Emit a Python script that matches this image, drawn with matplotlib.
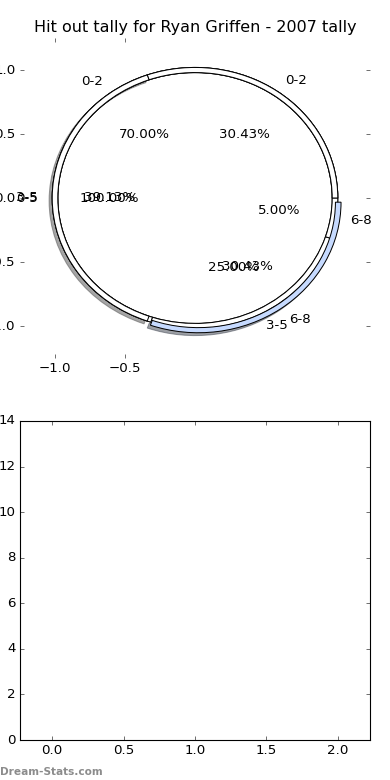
import matplotlib
matplotlib.use("Agg")
import matplotlib.pyplot as plt
from matplotlib.patches import Shadow

plt.style.use('classic')

# hit out tallies per range
labels_a = ['0-2', '3-5', '6-8']
tally_a = [14, 5, 1]
labels_b = ['0-2', '3-5', '6-8']
tally_b = [7, 9, 7]
labels_c = ['0-5']
tally_c = [1]

colors_a = ['white', 'white', 'white']
colors_b = ['white', 'white', '#c6daff']
colors_c = ['white']
explode_b = [0, 0, 0.04]

title = "Hit out tally for Ryan Griffen - 2007 tally"

fig = plt.figure(figsize=(4.875, 9.75), dpi=80)
fig.patch.set_facecolor('white')

ring = dict(width=0.04, edgecolor='black', linewidth=0.9)

ax1 = fig.add_axes([20/390, 1 - 358/780, 350/390, 320/780])
ax1.pie(tally_c, labels=labels_c, colors=colors_c, autopct='%1.2f%%',
        radius=1.02, wedgeprops=ring)
ax1.pie(tally_a, labels=labels_a, colors=colors_a, autopct='%1.2f%%',
        radius=1.02, wedgeprops=ring)
wedges, texts, autotexts = ax1.pie(tally_b, labels=labels_b, colors=colors_b,
                                   autopct='%1.2f%%', radius=1.02,
                                   explode=explode_b, wedgeprops=ring)
# shadow only under the lower wedges
for w in wedges[1:]:
    sh = Shadow(w, -0.02, -0.02)
    sh.set_zorder(w.get_zorder() - 0.1)
    ax1.add_patch(sh)

ax1.set_aspect('auto')
ax1.set_frame_on(False)
ax1.set_xlim(-1.25, 1.25)
ax1.set_ylim(-1.25, 1.25)
ax1.set_xticks([-1.0, -0.5])
ax1.set_yticks([-1.0, -0.5, 0.0, 0.5, 1.0])
ax1.set_title(title)

ax2 = fig.add_axes([20/390, 40/780, 350/390, 319/780])
ax2.set_xlim(-0.225, 2.225)
ax2.set_ylim(0, 14)
ax2.set_xticks([0.0, 0.5, 1.0, 1.5, 2.0])
ax2.set_yticks(range(0, 15, 2))

fig.text(0.0, 0.004, 'Dream-Stats.com', color='#8c8c8c', fontsize=9.5,
         fontweight='bold', ha='left', va='bottom')

fig.savefig('out.png', dpi=80, facecolor='white')
